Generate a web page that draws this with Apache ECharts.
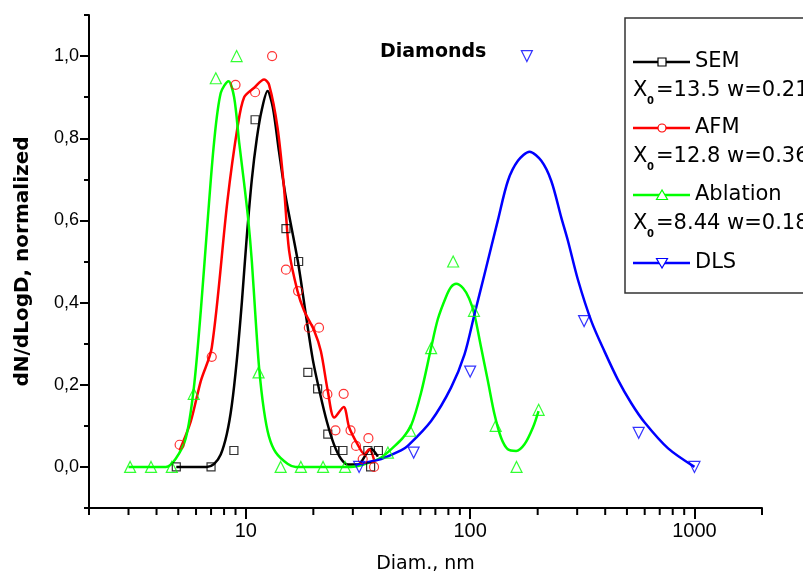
<!DOCTYPE html>
<html><head><meta charset="utf-8">
<script src="https://cdn.jsdelivr.net/npm/echarts@6/dist/echarts.min.js"></script>
<style>html,body{margin:0;padding:0;background:#fff}#c{width:803px;height:580px}</style>
</head><body><div id="c"></div>
<script>
// ---------- data (diameter nm, normalized dN/dLogD) ----------
const semPoints = [[4.9,0],[7.0,0],[8.85,0.04],[11.0,0.845],[15.1,0.58],[17.2,0.50],[18.9,0.23],[20.9,0.19],[23.2,0.08],[24.9,0.04],[27.1,0.04],[35,0.04],[36,0],[39,0.04]];
const semCurve = [[4.9,0],[6.7,0],[7.22,0.007],[7.73,0.03],[8.23,0.08],[8.66,0.15],[9.12,0.26],[9.6,0.40],[10.1,0.56],[10.64,0.70],[11.2,0.80],[11.79,0.87],[12.5,0.915],[13.2,0.875],[14.04,0.77],[15.09,0.655],[17.07,0.50],[18.53,0.37],[19.91,0.26],[21.4,0.18],[22.99,0.11],[24.71,0.055],[26.55,0.02],[28.54,0.006],[31.6,0.006],[36.1,0.044],[38.8,0.025]];

const afmPoints = [[5.07,0.054],[7.05,0.268],[9.0,0.93],[11.0,0.912],[13.1,1.0],[15.1,0.48],[17.1,0.428],[19.1,0.339],[21.2,0.339],[23.1,0.177],[27.3,0.178],[25.1,0.089],[29.3,0.089],[31,0.051],[35.2,0.07],[33.2,0.019],[37.3,0.0]];
const afmCurve = [[5.07,0.04],[5.68,0.11],[6.3,0.209],[7.05,0.29],[8.28,0.647],[9.18,0.826],[9.83,0.9],[10.9,0.923],[12.07,0.943],[12.7,0.93],[13.85,0.826],[14.8,0.68],[15.6,0.526],[17.0,0.428],[18.2,0.38],[20.2,0.331],[21.6,0.282],[23.2,0.185],[24.8,0.12],[27.3,0.146],[28.9,0.096],[31.5,0.055],[33.8,0.031],[35.5,0.043],[37.4,0.015]];

const ablationPoints = [[3.05,0],[3.78,0],[4.68,0],[5.86,0.178],[7.35,0.946],[9.1,1.0],[11.4,0.23],[14.3,0],[17.6,0],[22.1,0],[27.7,0],[43,0.035],[54,0.088],[67,0.289],[84,0.50],[104,0.38],[130,0.10],[161,0],[202,0.139]];
const ablationCurve = [[3.0,0],[4.4,0],[4.87,0.02],[5.4,0.07],[5.86,0.19],[6.3,0.38],[6.74,0.59],[7.22,0.79],[7.73,0.91],[8.37,0.939],[8.87,0.9],[9.34,0.79],[9.83,0.69],[10.26,0.60],[10.64,0.50],[11.03,0.37],[11.47,0.24],[12.03,0.14],[12.67,0.075],[13.61,0.035],[15.4,0.007],[16.7,0],[29.4,0],[34.3,0.008],[40.1,0.023],[45.9,0.05],[50,0.07],[54.5,0.1],[60.4,0.18],[67.0,0.29],[71.8,0.36],[78.2,0.415],[82.2,0.438],[86.6,0.446],[93.1,0.435],[99,0.41],[104.5,0.371],[112,0.29],[120,0.209],[128.4,0.128],[137.4,0.071],[147.2,0.043],[160.4,0.039],[174.7,0.055],[190.5,0.096],[201.8,0.136]];

const dlsPoints = [[32,0],[56,0.035],[100,0.232],[179,1.0],[322,0.355],[564,0.083],[1000,0]];
const dlsCurve = [[31,0.005],[37.4,0.015],[40.1,0.019],[49.2,0.04],[52.7,0.051],[67.0,0.112],[82.2,0.193],[94.4,0.274],[104.5,0.371],[115.9,0.469],[132.9,0.6],[147.3,0.696],[163.3,0.745],[184,0.767],[207.6,0.745],[230,0.696],[254.9,0.607],[273,0.55],[302.6,0.455],[346.9,0.355],[398,0.28],[456,0.212],[523,0.155],[600,0.108],[763,0.045],[1000,0]];

const xMinorTicks = [2,3,4,5,6,7,8,9,20,30,40,50,60,70,80,90,200,300,400,500,600,700,800,900,2000];
const yLabelsFmt = v => v.toFixed(1).replace('.', ',');
const seriesNames = ['SEM','AFM','Ablation','DLS'];
const fitTexts = [['13.5','0.21'],['12.8','0.36'],['8.44','0.18']];
const colors = ['#000000','#ff0000','#00ff00','#0000ff'];

const FONT = 'Liberation Sans';
const LFONT = 'DejaVu Sans';
const Y_MIN = -0.1, Y_MAX = 1.1;

const chart = echarts.init(document.getElementById('c'), null, {renderer:'canvas'});

function curve(name, data, color){
  return {name, type:'line', data, showSymbol:false, smooth:0.3, symbol:'none',
    lineStyle:{color, width:2.5}, z:2, silent:true, clip:false};
}
function marks(name, data, color, symbol, size, rot){
  return {name: name+' pts', type:'scatter', data, symbol, symbolSize:size, symbolRotate:rot||0,
    itemStyle:{color:'rgba(255,255,255,0)', borderColor:color, borderWidth:1.2}, z:3, silent:true};
}

// legend drawn as graphics
const lg = [];
const bx = 625, by = 18;
lg.push({type:'rect', shape:{x:bx, y:by, width:200, height:275}, style:{fill:'#fff', stroke:'#333', lineWidth:1.5}, z:10});
const rowsY = [62, 128, 195, 263];
const symDraw = [
  (cx,cy,c)=>({type:'rect', shape:{x:cx-4,y:cy-4,width:8,height:8}, style:{fill:'#fff',stroke:c,lineWidth:1.2}, z:12}),
  (cx,cy,c)=>({type:'circle', shape:{cx,cy,r:4}, style:{fill:'#fff',stroke:c,lineWidth:1.2}, z:12}),
  (cx,cy,c)=>({type:'polygon', shape:{points:[[cx,cy-5],[cx-5.5,cy+4.5],[cx+5.5,cy+4.5]]}, style:{fill:'#fff',stroke:c,lineWidth:1.2}, z:12}),
  (cx,cy,c)=>({type:'polygon', shape:{points:[[cx,cy+5],[cx-5.5,cy-4.5],[cx+5.5,cy-4.5]]}, style:{fill:'#fff',stroke:c,lineWidth:1.2}, z:12})
];
seriesNames.forEach((n,i)=>{
  const y = rowsY[i], c = colors[i];
  lg.push({type:'line', shape:{x1:633,y1:y,x2:690,y2:y}, style:{stroke:c,lineWidth:2.5}, z:11});
  lg.push(symDraw[i](662,y,c));
  lg.push({type:'text', x:695, y:y, style:{text:n, font:'21px "'+LFONT+'"', fill:'#000', verticalAlign:'middle'}, z:12});
  if (i < 3) {
    const y2 = y + 29;
    lg.push({type:'text', x:633, y:y2, style:{text:'X', font:'21px "'+LFONT+'"', fill:'#000', verticalAlign:'middle'}, z:12});
    lg.push({type:'text', x:647, y:y2+10, style:{text:'0', font:'bold 10px "'+LFONT+'"', fill:'#000', verticalAlign:'middle'}, z:12});
    lg.push({type:'text', x:656, y:y2, style:{text:'='+fitTexts[i][0]+' w='+fitTexts[i][1], font:'21px "'+LFONT+'"', fill:'#000', verticalAlign:'middle'}, z:12});
  }
});
lg.push({type:'text', x:380, y:52, style:{text:'Diamonds', font:'bold 19px "'+LFONT+'"', fill:'#000', verticalAlign:'middle'}, z:12});

const option = {
  animation:false,
  backgroundColor:'#fff',
  grid:{left:89, right:41, top:15, bottom:72, containLabel:false},
  xAxis:{type:'log', logBase:10, min:2, max:2000,
    axisLine:{show:true, onZero:false, lineStyle:{color:'#000', width:2}},
    axisTick:{show:true, length:11, lineStyle:{color:'#000', width:2}},
    minorTick:{show:false},
    axisLabel:{showMinLabel:false, showMaxLabel:false, fontSize:20, fontFamily:FONT, color:'#000', margin:13, formatter:v=>String(Math.round(v))},
    splitLine:{show:false},
    name:'Diam., nm', nameLocation:'middle', nameGap:47, nameTextStyle:{fontSize:19, fontFamily:LFONT, color:'#000'}
  },
  yAxis:[
    {type:'value', min:Y_MIN, max:Y_MAX, splitNumber:6, position:'left',
     axisLine:{show:true, onZero:false, lineStyle:{color:'#000', width:2}},
     axisTick:{show:true, length:9, lineStyle:{color:'#000', width:2}},
     axisLabel:{showMinLabel:false, showMaxLabel:false, formatter:yLabelsFmt, fontSize:18, fontFamily:FONT, color:'#000', margin:10},
     splitLine:{show:false},
     name:'dN/dLogD, normalized', nameLocation:'middle', nameGap:56, nameRotate:90,
     nameTextStyle:{fontSize:20, fontWeight:'bold', fontFamily:LFONT, color:'#000'}},
    {type:'value', min:Y_MIN, max:Y_MAX, interval:0.1, position:'left',
     axisLine:{show:false, onZero:false}, axisTick:{show:true, length:5, lineStyle:{color:'#000', width:2}},
     axisLabel:{show:false}, splitLine:{show:false}}
  ],
  graphic: lg,
  series:[
    curve('SEM', semCurve, colors[0]),
    curve('AFM', afmCurve, colors[1]),
    curve('Ablation', ablationCurve, colors[2]),
    curve('DLS', dlsCurve, colors[3]),
    marks('SEM', semPoints, colors[0], 'rect', 8),
    marks('AFM', afmPoints, colors[1], 'circle', 9),
    marks('Ablation', ablationPoints, colors[2], 'triangle', 11),
    marks('DLS', dlsPoints, colors[3], 'triangle', 11, 180),
    {type:'custom', name:'xminor', silent:true, clip:false, z:5,
     data: xMinorTicks.map(v=>[v, Y_MIN]),
     encode:{x:0, y:1},
     renderItem:(params, api)=>{
       const p = api.coord([api.value(0), Y_MIN]);
       return {type:'line', shape:{x1:p[0], y1:p[1], x2:p[0], y2:p[1]+7}, style:{stroke:'#000', lineWidth:2}};
     }}
  ]
};
chart.setOption(option);
</script></body></html>
